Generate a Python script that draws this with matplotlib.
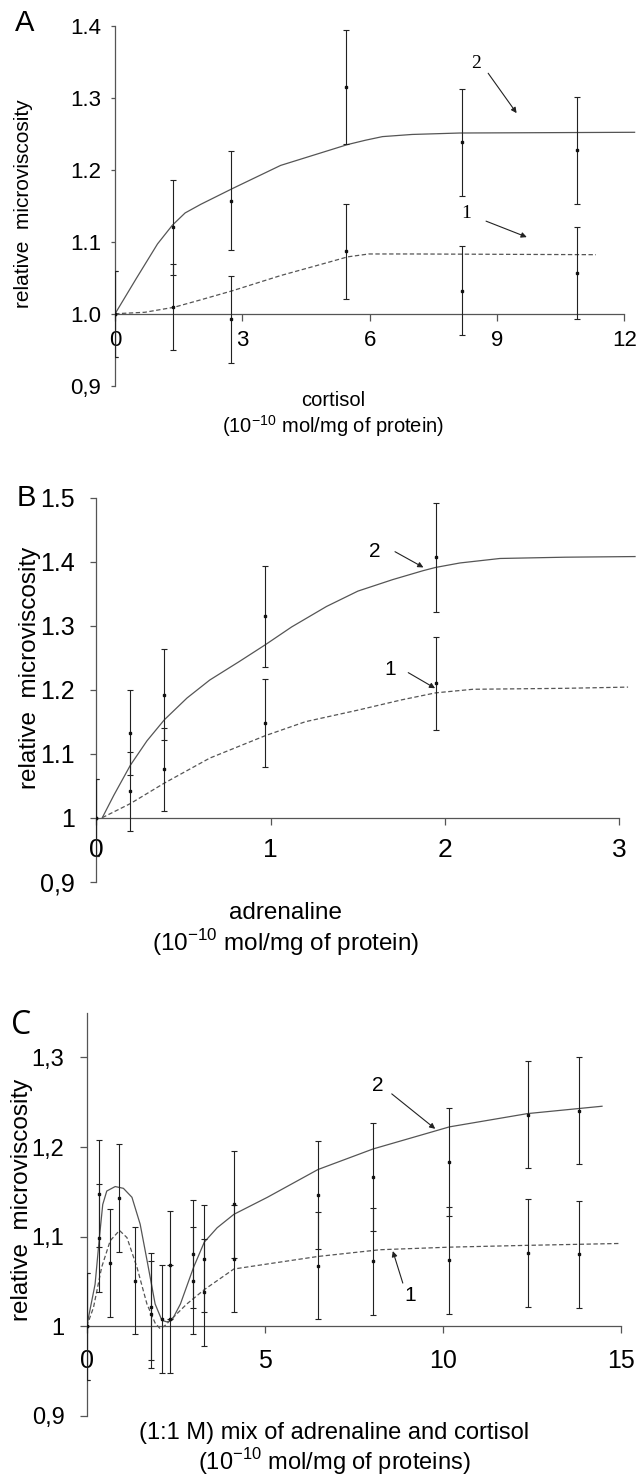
import numpy as np
import matplotlib
matplotlib.use("Agg")
import matplotlib.pyplot as plt

plt.rcParams['font.family'] = ['Liberation Sans', 'DejaVu Sans']

# ---------------- panel A: cortisol ----------------
a_x = [0, 1.36, 2.73, 5.43, 8.17, 10.88]
a_y2 = [1.0, 1.12, 1.157, 1.315, 1.238, 1.227]
a_err2 = [0.06, 0.066, 0.069, 0.079, 0.074, 0.074]
a_y1 = [1.0, 1.009, 0.992, 1.087, 1.032, 1.057]
a_err1 = [0.06, 0.06, 0.06, 0.066, 0.062, 0.064]
a_curve2_x = [0, 0.5, 1.0, 1.35, 1.65, 2.02, 2.77, 3.9, 5.48, 5.9, 6.3, 7.0, 8.12, 12.24]
a_curve2_y = [1.0, 1.049, 1.097, 1.123, 1.14, 1.152, 1.174, 1.206, 1.235, 1.241, 1.246, 1.249, 1.251, 1.252]
a_curve1_x = [0, 0.7, 1.39, 2.0, 2.77, 3.9, 5.0, 5.48, 5.98, 7.0, 11.33]
a_curve1_y = [1.0, 1.002, 1.009, 1.019, 1.032, 1.053, 1.071, 1.079, 1.083, 1.083, 1.082]
a_xticks = [0, 3, 6, 9, 12]
a_yticks = [0.9, 1.0, 1.1, 1.2, 1.3, 1.4]
a_yticklabels = ["0,9", "1.0", "1.1", "1.2", "1.3", "1.4"]

# ---------------- panel B: adrenaline ----------------
b_x = [0, 0.195, 0.39, 0.968, 1.946]
b_y2 = [1.0, 1.133, 1.192, 1.315, 1.407]
b_err2 = [0.06, 0.067, 0.071, 0.079, 0.085]
b_y1 = [1.0, 1.041, 1.0755, 1.148, 1.21]
b_err1 = [0.06, 0.062, 0.065, 0.069, 0.073]
b_curve2_x = [0.034, 0.1, 0.195, 0.29, 0.39, 0.52, 0.65, 0.82, 0.968, 1.12, 1.32, 1.5, 1.7, 1.875, 1.946, 2.086, 2.315, 2.69, 3.09]
b_curve2_y = [1.0, 1.035, 1.082, 1.12, 1.153, 1.187, 1.215, 1.244, 1.27, 1.298, 1.33, 1.354, 1.372, 1.386, 1.391, 1.398, 1.405, 1.407, 1.408]
b_curve1_x = [0.034, 0.195, 0.39, 0.65, 0.968, 1.2, 1.5, 1.75, 1.946, 2.16, 2.69, 3.05]
b_curve1_y = [1.0, 1.022, 1.054, 1.093, 1.128, 1.15, 1.168, 1.184, 1.195, 1.2006, 1.2021, 1.204]
b_xticks = [0, 1, 2, 3]
b_yticks = [0.9, 1.0, 1.1, 1.2, 1.3, 1.4, 1.5]
b_yticklabels = ["0,9", "1", "1.1", "1.2", "1.3", "1.4", "1.5"]

# ---------------- panel C: 1:1 mix ----------------
c_x2 = [0, 0.338, 0.919, 1.35, 1.80, 2.33, 2.98, 3.30, 4.13, 6.49, 8.04, 10.18, 12.37, 13.82]
c_y2 = [1.0, 1.148, 1.143, 1.051, 1.022, 1.0685, 1.0807, 1.0756, 1.136, 1.1467, 1.1667, 1.1835, 1.2363, 1.2408]
c_x1 = [0.338, 0.666, 1.80, 2.12, 2.33, 2.98, 3.30, 4.13, 6.49, 8.04, 10.18, 12.37, 13.82]
c_y1 = [1.0985, 1.0707, 1.0133, 1.0085, 1.0085, 1.051, 1.0378, 1.0756, 1.0678, 1.0726, 1.0737, 1.0819, 1.0804]
c_err = 0.06
c_curve2_x = [0, 0.235, 0.356, 0.45, 0.563, 0.80, 1.03, 1.27, 1.50, 1.71, 1.92, 2.11, 2.25, 2.39, 2.63, 3.0, 3.30, 3.66, 4.13, 5.07, 6.49, 8.04, 10.18, 12.37, 14.46]
c_curve2_y = [1.0, 1.047, 1.099, 1.136, 1.151, 1.156, 1.154, 1.144, 1.114, 1.070, 1.025, 1.0067, 1.005, 1.0067, 1.025, 1.066, 1.094, 1.110, 1.125, 1.144, 1.175, 1.198, 1.2226, 1.2374, 1.2456]
c_curve1_x = [0, 0.19, 0.42, 0.66, 0.92, 1.13, 1.41, 1.69, 1.92, 2.06, 2.2, 2.39, 2.81, 3.30, 4.13, 5.07, 6.49, 8.23, 10.2, 12.37, 14.97]
c_curve1_y = [1.0, 1.021, 1.066, 1.0956, 1.107, 1.099, 1.066, 1.025, 1.0037, 0.9974, 1.001, 1.0085, 1.025, 1.041, 1.064, 1.0696, 1.078, 1.0855, 1.0884, 1.0904, 1.0925]
c_xticks = [0, 5, 10, 15]
c_yticks = [0.9, 1.0, 1.1, 1.2, 1.3]
c_yticklabels = ["0,9", "1", "1,1", "1,2", "1,3"]

AXC = '#555555'
LINEC = '#555555'


def setup(ax, xmax, ytop, xticks, yticks, yticklabels, fx, fy, xlen, xpad, ylen, ypad):
    ax.set_xlim(0, xmax)
    ax.set_ylim(0.9, ytop)
    ax.spines['top'].set_visible(False)
    ax.spines['right'].set_visible(False)
    ax.spines['bottom'].set_position(('data', 1.0))
    ax.spines['bottom'].set_bounds(0, xticks[-1])
    ax.spines['left'].set_bounds(0.9, ytop)
    for s in ['bottom', 'left']:
        ax.spines[s].set_color(AXC)
        ax.spines[s].set_linewidth(0.9)
    ax.set_xticks(xticks)
    ax.set_xticklabels([str(t) for t in xticks])
    ax.set_yticks(yticks)
    ax.set_yticklabels(yticklabels)
    ax.tick_params(axis='x', direction='out', length=xlen, pad=xpad, labelsize=fx, color=AXC, width=0.9)
    ax.tick_params(axis='y', direction='out', length=ylen, pad=ypad, labelsize=fy, color=AXC, width=0.9)
    ax.patch.set_alpha(0)


def draw_bars(ax, x, y, err):
    ax.errorbar(x, y, yerr=err, fmt='s', ms=1.8, color='#111111', ecolor='#222222',
                elinewidth=0.8, capsize=2.3, capthick=0.8, zorder=3)


def arrow(ax, tail, tip):
    ax.annotate('', xy=tip, xytext=tail,
                arrowprops=dict(arrowstyle='-|>', color='#222222', lw=0.8,
                                mutation_scale=8, shrinkA=0, shrinkB=0))


fig = plt.figure(figsize=(6.38, 14.79), dpi=100)

# ---- A ----
axA = fig.add_axes([0.1804, 0.7392, 0.8196, 0.2434])
setup(axA, 12.32, 1.4, a_xticks, a_yticks, a_yticklabels, 16, 16, 5, 7, 3, 7)
axA.plot(a_curve2_x, a_curve2_y, color=LINEC, lw=0.9)
axA.plot(a_curve1_x, a_curve1_y, color=LINEC, lw=0.9, dashes=(3.5, 2))
draw_bars(axA, a_x, a_y2, a_err2)
draw_bars(axA, a_x, a_y1, a_err1)
axA.text(8.50, 1.347, "2", family='Liberation Serif', fontsize=14, ha='center', va='center')
axA.text(8.27, 1.1397, "1", family='Liberation Serif', fontsize=14, ha='center', va='center')
arrow(axA, (8.79, 1.334), (9.46, 1.2786))
arrow(axA, (8.74, 1.1286), (9.70, 1.1064))
axA.set_ylabel("relative  microviscosity", fontsize=15, va='center')
axA.yaxis.set_label_coords(-0.175, 0.505)
axA.set_xlabel("cortisol\n(10$^{\\mathregular{-10}}$ mol/mg of protein)", fontsize=14.5,
               va='center', linespacing=1.15)
axA.xaxis.set_label_coords(0.4167, -0.0825)

# ---- B ----
axB = fig.add_axes([0.1511, 0.4039, 0.8489, 0.2596])
setup(axB, 3.107, 1.5, b_xticks, b_yticks, b_yticklabels, 19, 18, 5.3, 9.5, 4.6, 11)
axB.plot(b_curve2_x, b_curve2_y, color=LINEC, lw=0.9)
axB.plot(b_curve1_x, b_curve1_y, color=LINEC, lw=0.9, dashes=(3.5, 2))
draw_bars(axB, b_x, b_y2, b_err2)
draw_bars(axB, b_x, b_y1, b_err1)
axB.text(1.595, 1.4156, "2", fontsize=15, ha='center', va='center')
axB.text(1.684, 1.232, "1", fontsize=15, ha='center', va='center')
arrow(axB, (1.713, 1.4156), (1.876, 1.391))
arrow(axB, (1.789, 1.2266), (1.943, 1.2022))
axB.set_ylabel("relative  microviscosity", fontsize=17.5, va='center')
axB.yaxis.set_label_coords(-0.1217, 0.5565)
axB.set_xlabel("adrenaline\n(10$^{\\mathregular{-10}}$ mol/mg of protein)", fontsize=17.5,
               va='center', linespacing=1.15)
axB.xaxis.set_label_coords(0.35, -0.126)

# ---- C ----
axC = fig.add_axes([0.1359, 0.0426, 0.8641, 0.2727])
setup(axC, 15.47, 1.35, c_xticks, c_yticks, c_yticklabels, 18, 17, 5.3, 10.8, 5, 11)
axC.plot(c_curve2_x, c_curve2_y, color=LINEC, lw=0.9)
axC.plot(c_curve1_x, c_curve1_y, color=LINEC, lw=0.9, dashes=(3.5, 2))
draw_bars(axC, [0], [1.0], [c_err])
draw_bars(axC, c_x2, c_y2, c_err)
draw_bars(axC, c_x1, c_y1, c_err)
axC.text(8.18, 1.269, "2", fontsize=15, ha='center', va='center')
axC.text(9.07, 1.0346, "1", fontsize=15, ha='center', va='center')
arrow(axC, (8.56, 1.2594), (9.78, 1.2204))
arrow(axC, (8.87, 1.0483), (8.59, 1.084))
axC.set_ylabel("relative  microviscosity", fontsize=17.5, va='center')
axC.yaxis.set_label_coords(-0.1174, 0.5356)
axC.set_xlabel("(1:1 M) mix of adrenaline and cortisol\n(10$^{\\mathregular{-10}}$ mol/mg of proteins)",
               fontsize=17, va='center', linespacing=1.05)
axC.xaxis.set_label_coords(0.4486, -0.083)

# panel letters
fig.text(24.5 / 638, 1 - 23 / 1479, "A", fontsize=21, ha='center', va='center')
fig.text(26 / 638, 1 - 498 / 1479, "B", fontsize=21, ha='center', va='center')
fig.text(21.5 / 638, 1 - 1025 / 1479, "C", family=['Open Sans', 'DejaVu Sans'], fontsize=23,
         ha='center', va='center')

fig.savefig("out.png", dpi=100)
